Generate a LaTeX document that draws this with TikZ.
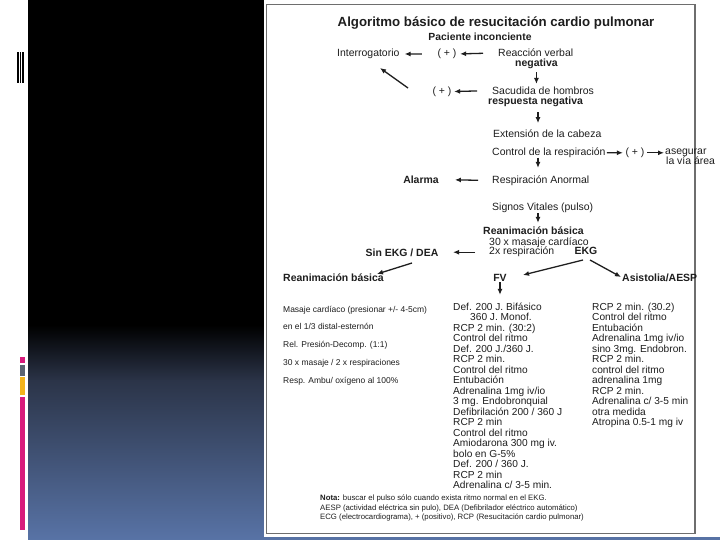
\documentclass[tikz,border=0pt]{standalone}
\usepackage{fontspec}
\setmainfont{Liberation Sans}
\usetikzlibrary{arrows.meta}
\definecolor{ink}{HTML}{1E1E1E}
\definecolor{frameg}{HTML}{6E6E6E}
\definecolor{gmid}{HTML}{2B3448}
\definecolor{gbot}{HTML}{5873A6}
\definecolor{mag}{HTML}{D81B7C}
\definecolor{barg}{HTML}{5B6371}
\definecolor{bary}{HTML}{F2B31C}
\tikzset{
  txt/.style={inner sep=0pt, text=ink, font=\fontsize{10.5}{12}\selectfont},
  txtb/.style={inner sep=0pt, text=ink, font=\fontsize{10.5}{12}\selectfont\bfseries},
  col/.style={inner sep=0pt, text=ink, anchor=base west, font=\fontsize{10.2}{12}\selectfont},
  lcol/.style={inner sep=0pt, text=ink, anchor=base west, font=\fontsize{8.5}{10}\selectfont},
  notetxt/.style={inner sep=0pt, text=ink, anchor=base west, font=\fontsize{7.8}{9}\selectfont},
  arr/.style={-{Latex[length=6bp,width=5bp]}, line width=1.3bp, draw=ink},
}
\begin{document}
\begin{tikzpicture}[x=1bp,y=-1bp]
\useasboundingbox (0,0) rectangle (720,540);
% background
\fill[white] (0,0) rectangle (720,540);
\fill[black] (28,0) rectangle (720,326);
\shade[top color=black, bottom color=gmid] (28,325) rectangle (720,381);
\shade[top color=gmid, bottom color=gbot] (28,380) rectangle (720,540);
% left decorations
\fill[black] (16.7,52) rectangle (18.5,83);
\fill[black] (19.5,52) rectangle (21,83);
\fill[black] (22,52) rectangle (24,83);
\fill[mag] (20,356.7) rectangle (25,363.3);
\fill[barg] (20,365) rectangle (25,376);
\fill[bary] (20,376.7) rectangle (25,395);
\fill[mag] (20,396.7) rectangle (25,530);
% panel
\fill[white] (264,0) rectangle (720,536.5);
\draw[frameg, line width=1.3bp] (266.5,4.5) rectangle (695,533.5);

% title
\node[inner sep=0pt, text=ink, anchor=base, font=\fontsize{13.3}{15}\selectfont\bfseries] (title) at (496,26.7) {Algoritmo básico de resucitación cardio pulmonar};
\node[inner sep=0pt, text=ink, anchor=base, font=\fontsize{10.4}{12}\selectfont\bfseries] (pac) at (480,40.7) {Paciente inconciente};

% flow
\node[txt, anchor=base west] (interr) at (337,56.7) {Interrogatorio};
\node[txt, anchor=base] (plus1) at (447,56.7) {( + )};
\node[txt, anchor=base west] (react) at (498,56.7) {Reacción verbal};
\node[txtb, anchor=base west] (neg1) at (515,66.7) {negativa};
\node[txt, anchor=base] (plus2) at (442,94.3) {( + )};
\node[txt, anchor=base west] (sac) at (492,94.3) {Sacudida de hombros};
\node[txtb, anchor=base west] (resp) at (488,105) {respuesta negativa};
\node[txt, anchor=base west] (ext) at (493,138) {Extensión de la cabeza};
\node[txt, anchor=base west] (ctrl) at (492,155.5) {Control de la respiración};
\node[txt, anchor=base] (plus3) at (635,155.5) {( + )};
\node[txt, anchor=base west] (aseg) at (665,155) {asegurar};
\node[txt, anchor=base west] (via) at (666,164.5) {la vía área};
\node[txt, anchor=base west] (respan) at (492,183.3) {Respiración Anormal};
\node[txtb, anchor=base] (alarma) at (421,183.3) {Alarma};
\node[txt, anchor=base west] (signos) at (492,210.7) {Signos Vitales (pulso)};
\node[txtb, anchor=base west] (rean1) at (483,235) {Reanimación básica};
\node[txt, anchor=base west] (masaje) at (489,245.7) {30 x masaje cardíaco};
\node[txt, anchor=base west] (resp2) at (489,255) {2x respiración};
\node[txtb, anchor=base] (ekg) at (586,255) {EKG};
\node[txtb, anchor=base] (sinekg) at (402,257) {Sin EKG / DEA};
\node[txtb, anchor=base west] (rean2) at (283,281.7) {Reanimación básica};
\node[txtb, anchor=base] (fv) at (500,282) {FV};
\node[txtb, anchor=base west] (asis) at (622,282) {Asistolia/AESP};

% left column
\node[lcol] (l1) at (283,312.5) {Masaje cardíaco (presionar +/- 4-5cm)};
\node[lcol] (l2) at (283,329.5) {en el 1/3 distal-esternón};
\node[lcol] (l3) at (283,347.5) {Rel. Presión-Decomp. (1:1)};
\node[lcol] (l4) at (283,365.5) {30 x masaje / 2 x respiraciones};
\node[lcol] (l5) at (283,383.5) {Resp. Ambu/ oxígeno al 100\%};

% FV column
\foreach \s [count=\i] in {Def. 200 J. Bifásico, \hspace*{17bp}360 J. Monof., RCP 2 min. (30:2), Control del ritmo, Def. 200 J./360 J., RCP 2 min., Control del ritmo, Entubación, Adrenalina 1mg iv/io, 3 mg. Endobronquial, Defibrilación 200 / 360 J, RCP 2 min, Control del ritmo, Amiodarona 300 mg iv., bolo en G-5\%, Def. 200 / 360 J., RCP 2 min, Adrenalina c/ 3-5 min.}
  \node[col] (fv\i) at (453,{310.5+(\i-1)*10.47}) {\s};

% Asistolia column
\foreach \s [count=\i] in {RCP 2 min. (30.2), Control del ritmo, Entubación, Adrenalina 1mg iv/io, sino 3mg. Endobron., RCP 2 min., control del ritmo, adrenalina 1mg, RCP 2 min., Adrenalina c/ 3-5 min, otra medida, Atropina 0.5-1 mg iv}
  \node[col] (as\i) at (592,{310.5+(\i-1)*10.47}) {\s};

% note
\node[notetxt] (n1) at (320,500.7) {\textbf{Nota:} buscar el pulso sólo cuando exista ritmo normal en el EKG.};
\node[notetxt] (n2) at (320,510) {AESP (actividad eléctrica sin pulo), DEA (Defibrilador eléctrico automático)};
\node[notetxt] (n3) at (320,519.3) {ECG (electrocardiograma), + (positivo), RCP (Resucitación cardio pulmonar)};

% connectors
\coordinate (spine) at (538,0);
\draw[arr, shorten <=15bp, shorten >=3.5bp] (react.west) -- (plus1.east);
\draw[arr, shorten <=15.5bp, shorten >=5bp] (plus1.west) -- (interr.east);
\coordinate (d1s) at (408,88);
\coordinate (d1e) at (380,68);
\draw[arr] (d1s) -- (d1e);
\draw[arr, shorten <=3bp, shorten >=2.6bp] (neg1.south) -- (neg1.south |- sac.north);
\draw[arr, shorten <=15bp, shorten >=2.5bp] (sac.west) -- (plus2.east);
\draw[arr, shorten <=4.8bp, shorten >=7bp] (spine |- resp.south) -- (spine |- ext.north);
\draw[arr, shorten <=1.2bp, shorten >=2.5bp] (ctrl.east) -- (plus3.west);
\draw[arr, shorten <=2.5bp, shorten >=1bp] (plus3.east) -- (aseg.west |- plus3.east);
\draw[arr, shorten <=0bp, shorten >=7.5bp] (spine |- ctrl.south) -- (spine |- respan.north);
\draw[arr, shorten <=14bp, shorten >=16bp] (respan.west) -- (alarma.east);
\draw[arr, shorten <=0bp, shorten >=4.3bp] (spine |- signos.south) -- (spine |- rean1.north);
\draw[arr, shorten <=14bp, shorten >=14.5bp] (resp2.west) -- (sinekg.east |- resp2.west);
\coordinate (e1s) at (412,263);
\coordinate (e1e) at (377,274);
\draw[arr] (e1s) -- (e1e);
\coordinate (k1s) at (583,260);
\coordinate (k1e) at (523,275);
\draw[arr] (k1s) -- (k1e);
\coordinate (k2s) at (590,260);
\coordinate (k2e) at (621,277);
\draw[arr] (k2s) -- (k2e);
\draw[arr, shorten <=0bp, shorten >=8bp] (fv.south) -- (fv.south |- fv1.north);
\end{tikzpicture}
\end{document}
